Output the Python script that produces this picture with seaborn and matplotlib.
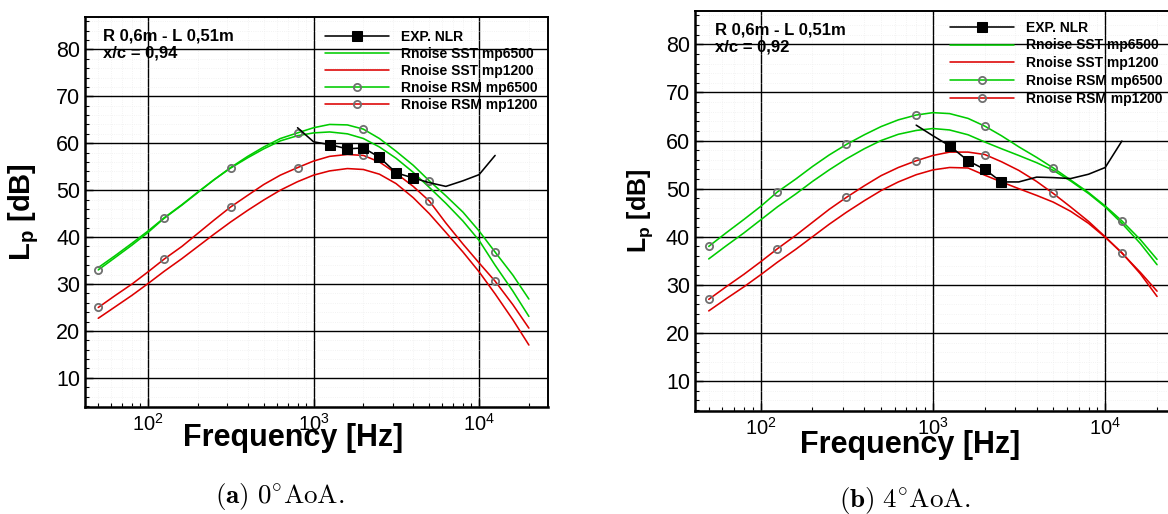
import matplotlib
matplotlib.use("Agg")
import matplotlib.pyplot as plt
import seaborn as sns
from matplotlib.ticker import LogLocator, MultipleLocator, NullFormatter

# ---------------- data ----------------
freq = [50, 63, 80, 100, 125, 160, 200, 250, 315, 400, 500, 630, 800, 1000,
        1250, 1600, 2000, 2500, 3150, 4000, 5000, 6300, 8000, 10000, 12500,
        16000, 20000]

# (a) 0 deg AoA, x/c = 0.94
sst6500_a = [33.5, 36.0, 38.7, 41.3, 44.1, 46.9, 49.6, 52.2, 54.7, 56.9, 58.8,
             60.5, 61.6, 62.2, 62.4, 62.0, 61.0, 59.2, 56.8, 53.8, 50.6, 47.2,
             43.4, 39.3, 34.0, 28.5, 23.1]
sst1200_a = [22.7, 25.1, 27.6, 30.1, 32.7, 35.4, 38.0, 40.6, 43.2, 45.7, 47.9,
             50.0, 51.8, 53.2, 54.1, 54.6, 54.4, 53.4, 51.4, 48.4, 45.0, 41.0,
             36.8, 32.6, 27.9, 22.4, 17.0]
rsm6500_a = [33.0, 35.6, 38.3, 41.0, 44.0, 46.8, 49.5, 52.2, 54.8, 57.2, 59.2,
             61.0, 62.2, 63.3, 64.0, 63.9, 63.0, 61.0, 58.3, 55.3, 52.0, 48.8,
             45.3, 41.3, 36.8, 31.9, 26.8]
rsm1200_a = [25.0, 27.5, 30.0, 32.6, 35.3, 38.0, 40.8, 43.6, 46.4, 48.9, 51.2,
             53.2, 54.8, 56.2, 57.2, 57.6, 57.4, 56.0, 53.6, 50.8, 47.7, 43.0,
             38.5, 34.5, 30.6, 25.6, 20.6]

# (b) 4 deg AoA, x/c = 0.92
sst6500_b = [35.4, 38.1, 40.8, 43.5, 46.2, 48.9, 51.5, 53.9, 56.2, 58.3, 60.0,
             61.3, 62.1, 62.5, 62.2, 61.2, 59.7, 58.3, 56.9, 55.4, 53.8, 51.6,
             49.0, 46.2, 42.8, 38.6, 34.2]
sst1200_b = [24.6, 27.1, 29.6, 32.1, 34.7, 37.4, 40.0, 42.6, 45.1, 47.5, 49.6,
             51.4, 52.9, 53.9, 54.4, 54.3, 52.8, 51.4, 50.0, 48.6, 47.2, 45.3,
             42.8, 39.9, 36.7, 32.3, 27.6]
rsm6500_b = [38.0, 40.8, 43.6, 46.3, 49.3, 52.0, 54.6, 57.0, 59.2, 61.2, 62.9,
             64.3, 65.3, 65.8, 65.6, 64.6, 63.0, 61.0, 58.7, 56.5, 54.3, 51.8,
             49.2, 46.4, 43.3, 39.4, 35.3]
rsm1200_b = [27.0, 29.6, 32.2, 34.8, 37.5, 40.3, 43.0, 45.7, 48.2, 50.6, 52.7,
             54.4, 55.8, 56.9, 57.6, 57.6, 57.1, 55.6, 53.8, 51.5, 49.0, 46.2,
             43.2, 40.0, 36.6, 32.6, 28.7]

exp_freq = [800, 1000, 1250, 1600, 2000, 2500, 3150, 4000, 5000, 6300, 8000,
            10000, 12500]
exp_a = [63.3, 60.3, 59.7, 58.8, 59.0, 57.0, 53.7, 52.6, 51.6, 50.8, 52.0,
         53.3, 57.4]
exp_b = [63.2, 61.0, 58.9, 55.8, 54.0, 51.4, 51.4, 52.4, 52.3, 52.1, 53.0,
         54.4, 59.9]

labels = ["EXP. NLR", "Rnoise SST mp6500", "Rnoise SST mp1200",
          "Rnoise RSM mp6500", "Rnoise RSM mp1200"]
annot_a = ["R 0,6m - L 0,51m", "x/c = 0,94"]
annot_b = ["R 0,6m - L 0,51m", "x/c = 0,92"]
caption_a = r"$\mathbf{(a)}\ 0^{\circ}\mathrm{AoA.}$"
caption_b = r"$\mathbf{(b)}\ 4^{\circ}\mathrm{AoA.}$"

# ---------------- style ----------------
sns.set_theme(style="ticks")
plt.rcParams["font.family"] = ["Liberation Sans", "DejaVu Sans"]
plt.rcParams["mathtext.fontset"] = "custom"
plt.rcParams["mathtext.rm"] = "Liberation Sans"
plt.rcParams["mathtext.it"] = "Liberation Sans:italic"
plt.rcParams["mathtext.bf"] = "Liberation Sans:bold"
for key in ["text.color", "axes.labelcolor", "xtick.color", "ytick.color",
            "axes.edgecolor"]:
    plt.rcParams[key] = "black"

GREEN = "#00cc00"
RED = "#dd0000"
CIRC_EDGE = "#707070"

fig = plt.figure(figsize=(11.68, 5.14), dpi=100)
ax_a = fig.add_axes([0.0728, 0.2082, 0.3964, 0.7588])
ax_b = fig.add_axes([0.5950, 0.2004, 0.4127, 0.7780])


def panel(ax, exp_vals, exp_marks, sst65, sst12, rsm65, rsm12, annot,
          leg_xy, leg_spacing, ylab_x, ylab_size, xlab_xy, annot_x, annot_y):
    ax.set_xscale("log")
    lw = 1.15
    sns.lineplot(x=exp_freq, y=exp_vals, ax=ax, color="black", lw=lw,
                 marker="s", markersize=7.5, markevery=exp_marks,
                 markeredgecolor="black", markerfacecolor="black",
                 label=labels[0], sort=False, zorder=6)
    sns.lineplot(x=freq, y=sst65, ax=ax, color=GREEN, lw=lw,
                 label=labels[1], sort=False, zorder=4)
    sns.lineplot(x=freq, y=sst12, ax=ax, color=RED, lw=lw,
                 label=labels[2], sort=False, zorder=4)
    circ = dict(marker="o", markersize=5.2, markevery=[0, 4, 8, 12, 16, 20, 24],
                markeredgecolor=CIRC_EDGE, markerfacecolor="none",
                markeredgewidth=1.3)
    sns.lineplot(x=freq, y=rsm65, ax=ax, color=GREEN, lw=lw,
                 label=labels[3], sort=False, zorder=5, **circ)
    sns.lineplot(x=freq, y=rsm12, ax=ax, color=RED, lw=lw,
                 label=labels[4], sort=False, zorder=5, **circ)

    ax.set_xlim(41.6, 26100)
    ax.set_ylim(3.8, 86.9)
    ax.xaxis.set_major_locator(LogLocator(base=10, numticks=10))
    ax.xaxis.set_minor_locator(LogLocator(base=10, subs=range(2, 10), numticks=50))
    ax.xaxis.set_minor_formatter(NullFormatter())
    ax.set_yticks([10, 20, 30, 40, 50, 60, 70, 80])
    ax.yaxis.set_minor_locator(MultipleLocator(2))

    ax.grid(True, which="minor", color="#efefef", lw=0.6, ls=":")
    ax.grid(True, which="major", color="black", lw=1.0)
    ax.set_axisbelow(True)

    ax.tick_params(which="both", direction="in", top=False, right=False,
                   colors="black")
    ax.tick_params(which="major", length=6, width=1.0)
    ax.tick_params(which="minor", length=3, width=0.8)
    ax.tick_params(axis="y", labelsize=15.5, pad=3.5)
    ax.tick_params(axis="x", labelsize=14.5, pad=4.5)
    for side in ["left", "bottom"]:
        ax.spines[side].set_linewidth(1.8)
    for side in ["top", "right"]:
        ax.spines[side].set_linewidth(1.4)

    ax.set_xlabel("Frequency [Hz]", fontsize=22, fontweight="bold")
    ax.xaxis.set_label_coords(*xlab_xy)
    ax.set_ylabel(r"$\mathbf{L_p}$ $\mathbf{[dB]}$", fontsize=ylab_size)
    ax.yaxis.set_label_coords(ylab_x, 0.5)

    ax.text(annot_x, annot_y[0], annot[0], transform=ax.transAxes,
            fontsize=12, fontweight="bold", va="center", ha="left", zorder=7)
    ax.text(annot_x, annot_y[1], annot[1], transform=ax.transAxes,
            fontsize=12, fontweight="bold", va="center", ha="left", zorder=7)

    leg = ax.legend(loc="upper left", bbox_to_anchor=leg_xy, frameon=False,
                    prop={"weight": "bold", "size": 10}, handlelength=4.6,
                    handletextpad=0.85, labelspacing=leg_spacing, borderpad=0,
                    borderaxespad=0)
    leg.set_zorder(8)


panel(ax_a, exp_a, [2, 3, 4, 5, 6, 7], sst6500_a, sst1200_a, rsm6500_a,
      rsm1200_a, annot_a, (0.518, 0.966), 0.21, -0.095, 21, (0.449, -0.040),
      0.039, (0.951, 0.908))
panel(ax_b, exp_b, [2, 3, 4, 5], sst6500_b, sst1200_b, rsm6500_b,
      rsm1200_b, annot_b, (0.529, 0.976), 0.27, -0.083, 18, (0.446, -0.047),
      0.0415, (0.9525, 0.91))

fig.text(280 / 1168, 1 - 496 / 514, caption_a, ha="center", va="center",
         fontsize=19.5, math_fontfamily="cm")
fig.text(905 / 1168, 1 - 500 / 514, caption_b, ha="center", va="center",
         fontsize=19.5, math_fontfamily="cm")

fig.savefig("out.png", dpi=100)
